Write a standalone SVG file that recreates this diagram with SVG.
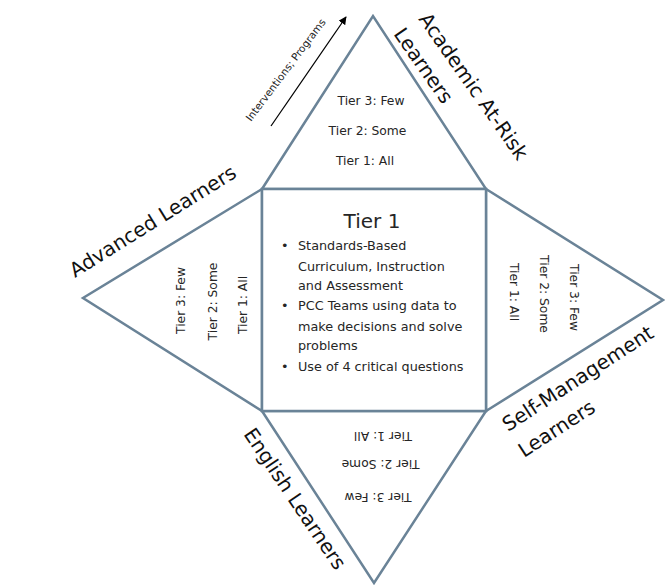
<svg xmlns="http://www.w3.org/2000/svg" width="665" height="585" viewBox="0 0 665 585">
<defs>
<style>
.shape{fill:#ffffff;stroke:#6a8397;stroke-width:2.5;stroke-linejoin:miter}
.t{font-family:"DejaVu Sans","Liberation Sans",sans-serif;fill:#262626}
.tier{font-size:12.3px;text-anchor:middle}
.lab{font-size:20px;fill:#111111}
.body{font-size:12.8px}
</style>
<marker id="ah" viewBox="0 0 10 10" refX="9" refY="5" markerWidth="8" markerHeight="8" markerUnits="userSpaceOnUse" orient="auto">
<path d="M0,0 L10,5 L0,10 z" fill="#000000"/>
</marker>
</defs>
<rect width="665" height="585" fill="#ffffff"/>

<g id="top-triangle">
<polygon class="shape" points="262,189 373,16 486,189"/>
<text class="t tier" x="371" y="105">Tier 3: Few</text>
<text class="t tier" x="367.5" y="135">Tier 2: Some</text>
<text class="t tier" x="365" y="165">Tier 1: All</text>
</g>

<g id="left-triangle">
<polygon class="shape" points="262,189 83,298 262,411"/>
<text class="t tier" transform="translate(185,300.5) rotate(-90)">Tier 3: Few</text>
<text class="t tier" transform="translate(217,301.5) rotate(-90)">Tier 2: Some</text>
<text class="t tier" transform="translate(247,305) rotate(-90)">Tier 1: All</text>
</g>

<g id="right-triangle">
<polygon class="shape" points="486,189 663,300 486,411"/>
<text class="t tier" transform="translate(570,297.5) rotate(90)">Tier 3: Few</text>
<text class="t tier" transform="translate(540,294) rotate(90)">Tier 2: Some</text>
<text class="t tier" transform="translate(510,292) rotate(90)">Tier 1: All</text>
</g>

<g id="bottom-triangle">
<polygon class="shape" points="262,411 374,583 486,411"/>
<text class="t tier" transform="translate(383,432) rotate(180)">Tier 1: All</text>
<text class="t tier" transform="translate(380.5,460) rotate(180)">Tier 2: Some</text>
<text class="t tier" transform="translate(378,493) rotate(180)">Tier 3: Few</text>
</g>

<g id="tier1-box">
<rect class="shape" x="262" y="189" width="224" height="222"/>
<text class="t" x="372" y="228" font-size="20" text-anchor="middle" fill="#111111">Tier 1</text>
<g class="t body">
<text x="281" y="250">•</text>
<text x="298" y="250">Standards-Based</text>
<text x="298" y="270.5">Curriculum, Instruction</text>
<text x="298" y="290">and Assessment</text>
<text x="281" y="310">•</text>
<text x="298" y="310">PCC Teams using data to</text>
<text x="298" y="330.5">make decisions and solve</text>
<text x="298" y="350">problems</text>
<text x="281" y="370.5">•</text>
<text x="298" y="370.5">Use of 4 critical questions</text>
</g>
</g>

<g id="label-academic">
<text class="t lab" transform="translate(418,19) rotate(55)">Academic At-Risk</text>
<text class="t lab" transform="translate(393,34) rotate(55)">Learners</text>
</g>
<g id="label-advanced">
<text class="t lab" transform="translate(75,278) rotate(-32)">Advanced Learners</text>
</g>
<g id="label-self">
<text class="t lab" transform="translate(508,432) rotate(-33)">Self-Management</text>
<text class="t lab" transform="translate(524,458) rotate(-33)">Learners</text>
</g>
<g id="label-english">
<text class="t lab" transform="translate(243,434) rotate(56)">English Learners</text>
</g>

<g id="connectors">
<line x1="271" y1="126" x2="346" y2="17" stroke="#000000" stroke-width="1.3" marker-end="url(#ah)"/>
<text class="t" font-size="10.4" fill="#222222" transform="translate(251,122) rotate(-53)">Interventions; Programs</text>
</g>
</svg>
